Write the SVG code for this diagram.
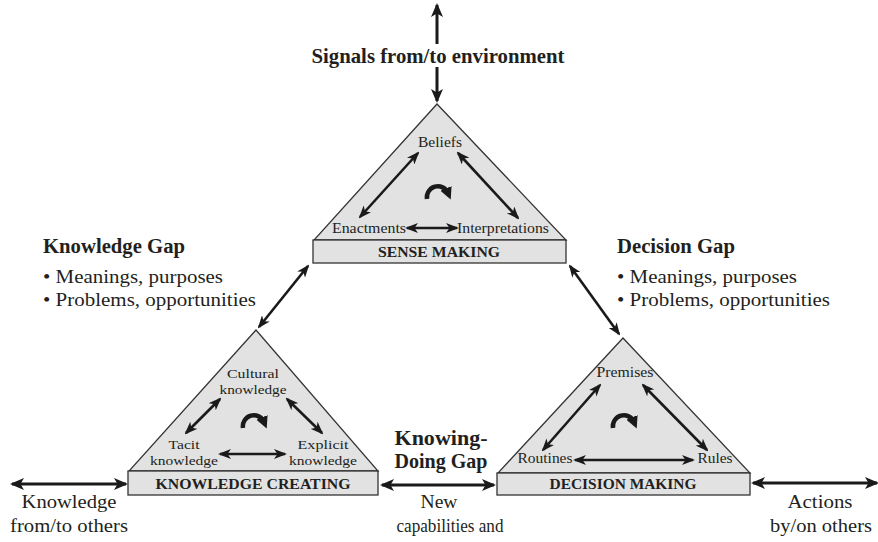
<svg xmlns="http://www.w3.org/2000/svg" width="878" height="542" viewBox="0 0 878 542" font-family="'Liberation Serif', 'Times New Roman', serif">
<style>
.t{fill:#231f20}
.s{font-size:15px}
.s2{font-size:13.5px}
.bx{font-size:15px;font-weight:bold}
.b{font-weight:bold}
.m{text-anchor:middle}
.lg{font-size:19px}
.hd{font-size:20px;font-weight:bold}
.tri{fill:#e2e2e2;stroke:#333;stroke-width:1.3}
.ln{stroke:#1a1a1a;stroke-width:2.6;fill:none}
.ln2{stroke:#1a1a1a;stroke-width:3;fill:none}
.cv{stroke:#1a1a1a;stroke-width:4.5;fill:none}
</style>
<defs>
<marker id="a" markerUnits="userSpaceOnUse" viewBox="0 0 13 10" markerWidth="13" markerHeight="10" refX="11" refY="5" orient="auto-start-reverse"><path d="M0,0 L13,5 L0,10 L3.5,5 z" fill="#1a1a1a"/></marker>
<marker id="b" markerUnits="userSpaceOnUse" viewBox="0 0 14 12" markerWidth="14" markerHeight="12" refX="12" refY="6" orient="auto-start-reverse"><path d="M0,0 L14,6 L0,12 L3.5,6 z" fill="#1a1a1a"/></marker>
<marker id="c" markerUnits="userSpaceOnUse" viewBox="0 0 12 12" markerWidth="12" markerHeight="12" refX="5" refY="6" orient="auto"><path d="M0,0 L12,6 L0,12 z" fill="#1a1a1a"/></marker>
</defs>

<g id="top-signal">
<text class="t b m" x="438" y="63" font-size="21" textLength="253" lengthAdjust="spacingAndGlyphs">Signals from/to environment</text>
</g>

<g id="sense-making">
<polygon class="tri" points="437,104 314,240 566,240"/>
<rect class="tri" x="313" y="240" width="253" height="23"/>
<text class="t bx m" x="439" y="257" textLength="122" lengthAdjust="spacingAndGlyphs">SENSE MAKING</text>
<text class="t s m" x="440" y="147" textLength="44" lengthAdjust="spacingAndGlyphs">Beliefs</text>
<text class="t s" x="332" y="233" textLength="74" lengthAdjust="spacingAndGlyphs">Enactments</text>
<text class="t s" x="457" y="233" textLength="92" lengthAdjust="spacingAndGlyphs">Interpretations</text>
<line class="ln" x1="418" y1="153" x2="360" y2="217" marker-start="url(#a)" marker-end="url(#a)"/>
<line class="ln" x1="458" y1="153" x2="518" y2="218" marker-start="url(#a)" marker-end="url(#a)"/>
<line class="ln" x1="407" y1="228" x2="457" y2="228" marker-start="url(#a)" marker-end="url(#a)"/>
<path class="cv" d="M427,199 A11,11 0 0 1 448,193" marker-end="url(#c)"/>
</g>

<g id="knowledge-creating">
<polygon class="tri" points="256,330 129,471 378,471"/>
<rect class="tri" x="128" y="471" width="250" height="24"/>
<text class="t bx m" x="253" y="489" textLength="195" lengthAdjust="spacingAndGlyphs">KNOWLEDGE CREATING</text>
<text class="t s2 m" x="253" y="378" textLength="52" lengthAdjust="spacingAndGlyphs">Cultural</text>
<text class="t s2 m" x="253" y="394" textLength="67" lengthAdjust="spacingAndGlyphs">knowledge</text>
<text class="t s2 m" x="184" y="449" textLength="31" lengthAdjust="spacingAndGlyphs">Tacit</text>
<text class="t s2 m" x="184" y="465" textLength="68" lengthAdjust="spacingAndGlyphs">knowledge</text>
<text class="t s2 m" x="323" y="449" textLength="51" lengthAdjust="spacingAndGlyphs">Explicit</text>
<text class="t s2 m" x="323" y="465" textLength="68" lengthAdjust="spacingAndGlyphs">knowledge</text>
<line class="ln" x1="220" y1="399" x2="186" y2="433" marker-start="url(#a)" marker-end="url(#a)"/>
<line class="ln" x1="287" y1="399" x2="322" y2="433" marker-start="url(#a)" marker-end="url(#a)"/>
<line class="ln" x1="220" y1="454" x2="285" y2="454" marker-start="url(#a)" marker-end="url(#a)"/>
<path class="cv" d="M243,428 A11,11 0 0 1 264,422" marker-end="url(#c)"/>
</g>

<g id="decision-making">
<polygon class="tri" points="623,338 498,473 750,473"/>
<rect class="tri" x="497" y="473" width="253" height="22"/>
<text class="t bx m" x="623" y="489" textLength="147" lengthAdjust="spacingAndGlyphs">DECISION MAKING</text>
<text class="t s m" x="625" y="377" textLength="57" lengthAdjust="spacingAndGlyphs">Premises</text>
<text class="t s m" x="545" y="463" textLength="55" lengthAdjust="spacingAndGlyphs">Routines</text>
<text class="t s m" x="715" y="463" textLength="35" lengthAdjust="spacingAndGlyphs">Rules</text>
<line class="ln" x1="600" y1="385" x2="543" y2="450" marker-start="url(#a)" marker-end="url(#a)"/>
<line class="ln" x1="643" y1="385" x2="707" y2="450" marker-start="url(#a)" marker-end="url(#a)"/>
<line class="ln" x1="575" y1="460" x2="693" y2="460" marker-start="url(#a)" marker-end="url(#a)"/>
<path class="cv" d="M613,428 A11,11 0 0 1 634,422" marker-end="url(#c)"/>
</g>

<g id="knowledge-gap">
<text class="t hd" x="43" y="253" textLength="142" lengthAdjust="spacingAndGlyphs">Knowledge Gap</text>
<text class="t lg" x="43" y="283" textLength="180" lengthAdjust="spacingAndGlyphs">• Meanings, purposes</text>
<text class="t lg" x="43" y="306" textLength="213" lengthAdjust="spacingAndGlyphs">• Problems, opportunities</text>
</g>

<g id="decision-gap">
<text class="t hd" x="617" y="253" textLength="118" lengthAdjust="spacingAndGlyphs">Decision Gap</text>
<text class="t lg" x="617" y="283" textLength="180" lengthAdjust="spacingAndGlyphs">• Meanings, purposes</text>
<text class="t lg" x="617" y="306" textLength="213" lengthAdjust="spacingAndGlyphs">• Problems, opportunities</text>
</g>

<g id="knowing-doing-gap">
<text class="t hd m" x="441" y="445" textLength="93" lengthAdjust="spacingAndGlyphs">Knowing-</text>
<text class="t hd m" x="441" y="468" textLength="93" lengthAdjust="spacingAndGlyphs">Doing Gap</text>
<text class="t lg m" x="439" y="508" textLength="37" lengthAdjust="spacingAndGlyphs">New</text>
<text class="t lg m" x="450" y="532" textLength="107" lengthAdjust="spacingAndGlyphs">capabilities and</text>
</g>

<g id="knowledge-others">
<text class="t lg m" x="69" y="508" textLength="95" lengthAdjust="spacingAndGlyphs">Knowledge</text>
<text class="t lg m" x="69" y="532" textLength="118" lengthAdjust="spacingAndGlyphs">from/to others</text>
</g>

<g id="actions-others">
<text class="t lg m" x="820" y="508" textLength="65" lengthAdjust="spacingAndGlyphs">Actions</text>
<text class="t lg m" x="821" y="532" textLength="102" lengthAdjust="spacingAndGlyphs">by/on others</text>
</g>

<g id="connectors">
<line class="ln2" x1="437" y1="44" x2="437" y2="5" marker-end="url(#b)" stroke-width="4"/>
<line class="ln2" x1="437" y1="67" x2="437" y2="101" marker-end="url(#b)" stroke-width="4"/>
<line class="ln" x1="308" y1="266" x2="259" y2="327" marker-start="url(#a)" marker-end="url(#a)"/>
<line class="ln" x1="570" y1="266" x2="619" y2="334" marker-start="url(#a)" marker-end="url(#a)"/>
<line class="ln2" x1="12" y1="484" x2="126" y2="484" marker-start="url(#b)" marker-end="url(#b)"/>
<line class="ln2" x1="382" y1="485" x2="494" y2="485" marker-start="url(#b)" marker-end="url(#b)"/>
<line class="ln2" x1="753" y1="483" x2="877" y2="483" marker-start="url(#b)" marker-end="url(#b)"/>
</g>
</svg>
